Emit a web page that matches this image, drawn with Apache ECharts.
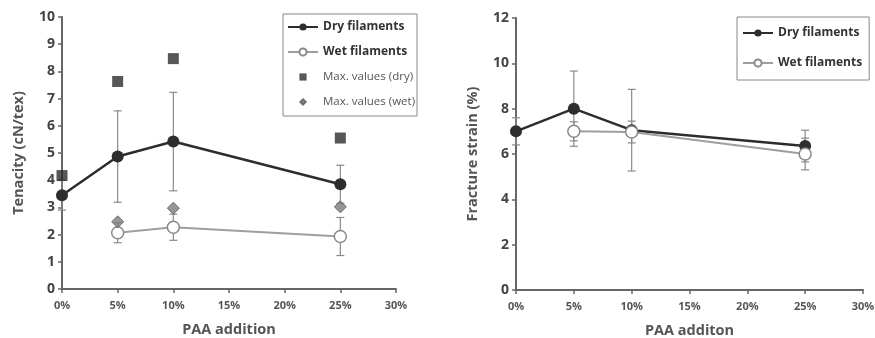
<!DOCTYPE html>
<html>
<head>
<meta charset="utf-8">
<script src="https://cdn.jsdelivr.net/npm/echarts@6/dist/echarts.min.js"></script>
<style>html,body{margin:0;padding:0;background:#fff}#main{width:875px;height:338px}</style>
</head>
<body>
<div id="main"></div>
<script>
// PAA addition (%)
var paa = [0, 5, 10, 25];
var xTicks = ['0%', '5%', '10%', '15%', '20%', '25%', '30%'];

// tenacity (cN/tex)
var tenDry = [3.45, 4.87, 5.42, 3.85];
var tenDryErr = [0.55, 1.68, 1.81, 0.7];
var tenWet = [null, 2.07, 2.27, 1.93];
var tenWetErr = [null, 0.37, 0.48, 0.7];
var maxDry = [4.17, 7.63, 8.47, 5.55];
var maxWet = [null, 2.47, 2.97, 3.02];

// fracture strain (%)
var strDry = [7.0, 8.0, 7.05, 6.35];
var strDryErr = [0.6, 1.66, 1.8, 0.7];
var strWet = [null, 7.0, 6.97, 6.0];
var strWetErr = [null, 0.42, 0.48, 0.7];

var FONT = '"Open Sans", sans-serif';

function pts(vals) {
    var out = [];
    vals.forEach(function(v, i) { if (v != null) out.push([paa[i], v]) });
    return out;
}
function errs(vals, e) {
    var out = [];
    vals.forEach(function(v, i) { if (v != null && e[i] != null) out.push([paa[i], v - e[i], v + e[i]]) });
    return out;
}
function errSeries(name, data, idx) {
    return {
        type: 'custom', name: name, xAxisIndex: idx, yAxisIndex: idx, z: 1, silent: true,
        renderItem: function(params, api) {
            var lo = api.coord([api.value(0), api.value(1)]);
            var hi = api.coord([api.value(0), api.value(2)]);
            var w = 4, st = {stroke: '#8a8a8a', lineWidth: 1.2};
            return {type: 'group', children: [
                {type: 'line', shape: {x1: lo[0], y1: lo[1], x2: hi[0], y2: hi[1]}, style: st},
                {type: 'line', shape: {x1: lo[0] - w, y1: lo[1], x2: lo[0] + w, y2: lo[1]}, style: st},
                {type: 'line', shape: {x1: hi[0] - w, y1: hi[1], x2: hi[0] + w, y2: hi[1]}, style: st}
            ]};
        },
        data: data
    };
}
function dry(idx, vals) {
    return {type: 'line', name: 'Dry filaments', xAxisIndex: idx, yAxisIndex: idx, z: 3,
        data: pts(vals), symbol: 'circle', symbolSize: 12,
        lineStyle: {color: '#2d2d2d', width: 2.5}, itemStyle: {color: '#2d2d2d'}};
}
function wet(idx, vals) {
    return {type: 'line', name: 'Wet filaments', xAxisIndex: idx, yAxisIndex: idx, z: 3,
        data: pts(vals), symbol: 'circle', symbolSize: 12,
        lineStyle: {color: '#9e9e9e', width: 2},
        itemStyle: {color: '#fff', borderColor: '#8a8a8a', borderWidth: 1.5}};
}
function xAxis(idx, name) {
    return {type: 'value', gridIndex: idx, min: 0, max: 30, interval: 5,
        name: name, nameLocation: 'middle', nameGap: 33,
        nameTextStyle: {fontFamily: FONT, fontWeight: 'bold', fontSize: 14.5, color: '#555'},
        axisLine: {lineStyle: {color: '#666', width: 2}},
        axisTick: {show: true, length: 4, lineStyle: {color: '#666', width: 1.5}},
        axisLabel: {formatter: function(v) { return xTicks[v / 5] }, fontFamily: FONT, fontWeight: 'bold', fontSize: 11, color: '#555', margin: 11},
        splitLine: {show: false}};
}
function yAxis(idx, name, max, interval) {
    return {type: 'value', gridIndex: idx, min: 0, max: max, interval: interval,
        name: name, nameLocation: 'middle', nameGap: 36, nameRotate: 90,
        nameTextStyle: {fontFamily: FONT, fontWeight: 'bold', fontSize: 14.5, color: '#555'},
        axisLine: {show: true, lineStyle: {color: '#666', width: 2}},
        axisTick: {show: true, length: 4, lineStyle: {color: '#666', width: 1.5}},
        axisLabel: {fontFamily: FONT, fontWeight: 'bold', fontSize: 14, color: '#444', margin: 7},
        splitLine: {show: false}};
}

var bold = {fontFamily: FONT, fontWeight: 'bold', fontSize: 12, color: '#333'};
var thin = {fontFamily: FONT, fontWeight: 'normal', fontSize: 11.5, color: '#555'};
// keep-aspect icons with a transparent margin so the marks stay small
var sqIcon = 'path://M0,0M10,10M1,1L9,1L9,9L1,9Z';
var diIcon = 'path://M0,0M10,10M5,2L8,5L5,8L2,5Z';

var chart = echarts.init(document.getElementById('main'));
chart.setOption({
    animation: false,
    backgroundColor: '#fff',
    grid: [
        {left: 62, right: 479, top: 17, bottom: 49, outerBoundsMode: 'none'},
        {left: 516, right: 12, top: 18, bottom: 48, outerBoundsMode: 'none'}
    ],
    xAxis: [xAxis(0, 'PAA addition'), xAxis(1, 'PAA additon')],
    yAxis: [yAxis(0, 'Tenacity (cN/tex)', 10, 1), yAxis(1, 'Fracture strain (%)', 12, 2)],
    legend: [{
        left: 283, top: 14, orient: 'vertical', itemGap: 13, itemWidth: 30, itemHeight: 9,
        padding: [7, 2, 8, 4], borderColor: '#888', borderWidth: 1, selectedMode: false,
        data: [
            {name: 'Dry filaments', textStyle: bold},
            {name: 'Wet filaments', textStyle: bold},
            {name: 'Max. values (dry)', textStyle: thin, icon: sqIcon},
            {name: 'Max. values (wet)', textStyle: thin, icon: diIcon}
        ]
    }, {
        left: 737, top: 17, orient: 'vertical', itemGap: 18, itemWidth: 30, itemHeight: 9,
        padding: [10, 7, 11, 5], borderColor: '#888', borderWidth: 1, selectedMode: false,
        data: [
            {name: 'Dry filaments', textStyle: bold},
            {name: 'Wet filaments', textStyle: bold}
        ]
    }],
    series: [
        errSeries('errDry0', errs(tenDry, tenDryErr), 0),
        errSeries('errWet0', errs(tenWet, tenWetErr), 0),
        dry(0, tenDry),
        wet(0, tenWet),
        {type: 'scatter', name: 'Max. values (dry)', xAxisIndex: 0, yAxisIndex: 0, z: 4,
            data: pts(maxDry), symbol: 'rect', symbolSize: 11, itemStyle: {color: '#2d2d2d'}},
        {type: 'scatter', name: 'Max. values (wet)', xAxisIndex: 0, yAxisIndex: 0, z: 4,
            data: pts(maxWet), symbol: 'diamond', symbolSize: 12,
            itemStyle: {color: '#7c7c7c', borderColor: '#555', borderWidth: 1}},
        errSeries('errDry1', errs(strDry, strDryErr), 1),
        errSeries('errWet1', errs(strWet, strWetErr), 1),
        dry(1, strDry),
        wet(1, strWet)
    ]
});
</script>
</body>
</html>
